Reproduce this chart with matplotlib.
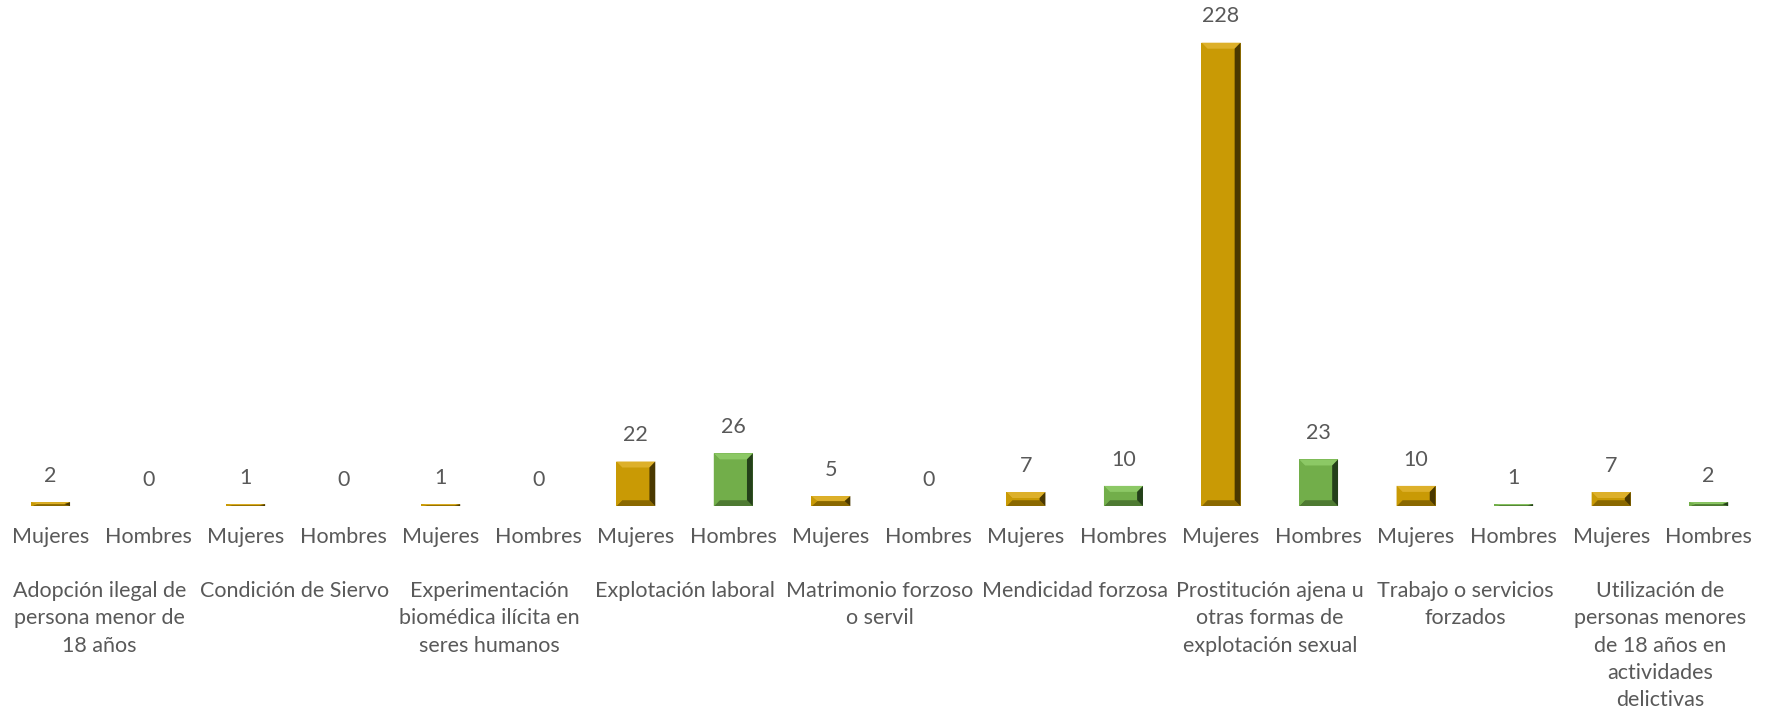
import matplotlib.pyplot as plt
from matplotlib.patches import Polygon

# data
groups = ["Adopción ilegal de\npersona menor de\n18 años",
          "Condición de Siervo",
          "Experimentación\nbiomédica ilícita en\nseres humanos",
          "Explotación laboral",
          "Matrimonio forzoso\no servil",
          "Mendicidad forzosa",
          "Prostitución ajena u\notras formas de\nexplotación sexual",
          "Trabajo o servicios\nforzados",
          "Utilización de\npersonas menores\nde 18 años en\nactividades\ndelictivas"]
sexes = ["Mujeres", "Hombres"]
mujeres = [2, 1, 1, 22, 5, 7, 228, 10, 7]
hombres = [0, 0, 0, 26, 0, 10, 23, 1, 2]

gold = "#C99A05"
green = "#72AE4A"
shades = {gold: ("#DDB02A", "#8A6800", "#4A3800", "#C99A05"),
          green: ("#8CC865", "#4E7A32", "#24401A", "#72AE4A")}
text_col = "#595959"
fs = 15.5
plt.rcParams['font.family'] = ['Lato', 'DejaVu Sans']

fig = plt.figure(figsize=(17.77, 7.13), dpi=100)
ax = fig.add_axes([0.001, 0.290, 0.988, 0.710])

vals, cols, labels = [], [], []
for m, h in zip(mujeres, hombres):
    vals += [m, h]
    cols += [gold, green]
    labels += sexes
x = list(range(len(vals)))
bars = ax.bar(x, vals, width=0.4, color=cols, edgecolor="none")
ax.set_xlim(-0.5, len(vals) - 0.5)
ax.set_ylim(0, 249)

# bevel effect drawn from each bar's own geometry
px_per_unit = 0.710 * 713 / 249
bev_y_units = 6 / px_per_unit
for b, c in zip(bars, cols):
    h = b.get_height()
    if h <= 0:
        continue
    x0, w = b.get_x(), b.get_width()
    x1, y1 = x0 + w, h
    bx = w * 0.15
    by = min(bev_y_units, h / 2)
    top, bot, right, left = shades[c]
    ax.add_patch(Polygon([(x0, y1), (x1, y1), (x1 - bx, y1 - by), (x0 + bx, y1 - by)], color=top, lw=0))
    ax.add_patch(Polygon([(x0, 0), (x1, 0), (x1 - bx, by), (x0 + bx, by)], color=bot, lw=0))
    ax.add_patch(Polygon([(x1, 0), (x1, y1), (x1 - bx, y1 - by), (x1 - bx, by)], color=right, lw=0))
    ax.add_patch(Polygon([(x0, 0), (x0, y1), (x0 + bx, y1 - by), (x0 + bx, by)], color=left, lw=0))

for xi, v in zip(x, vals):
    ax.annotate(str(v), (xi, v), xytext=(0, 19), textcoords="offset points",
                ha="center", va="center", fontsize=fs, color=text_col)

ax.set_xticks(x)
ax.set_xticklabels(labels, fontsize=fs, color=text_col)
ax.tick_params(axis="x", length=0, pad=15)
ax.set_yticks([])
for s in ax.spines.values():
    s.set_visible(False)

for i, g in enumerate(groups):
    ax.text(2 * i + 0.5, -0.148, g, transform=ax.get_xaxis_transform(), ha="center", va="top",
            fontsize=fs, color=text_col, linespacing=1.45)

fig.savefig("out.png", dpi=100)
